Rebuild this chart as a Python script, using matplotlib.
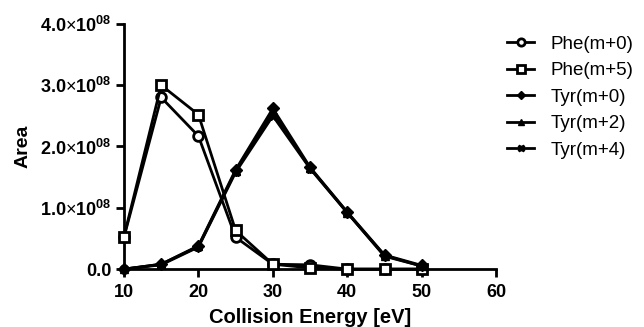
import matplotlib
matplotlib.use("Agg")
import matplotlib.pyplot as plt

plt.rcParams['font.family'] = ['Liberation Sans', 'DejaVu Sans']
plt.rcParams['mathtext.fontset'] = 'custom'
plt.rcParams['mathtext.rm'] = 'Liberation Sans'
plt.rcParams['mathtext.bf'] = 'Liberation Sans:bold'

energy = [10, 15, 20, 25, 30, 35, 40, 45, 50]
phe_m0 = [0.52e8, 2.80e8, 2.17e8, 0.52e8, 0.08e8, 0.07e8, 0.0, 0.0, 0.0]
phe_m5 = [0.53e8, 3.00e8, 2.52e8, 0.63e8, 0.08e8, 0.02e8, 0.0, 0.0, 0.0]
tyr_m0 = [0.0, 0.08e8, 0.38e8, 1.62e8, 2.62e8, 1.66e8, 0.93e8, 0.23e8, 0.06e8]
tyr_m2 = [0.0, 0.08e8, 0.37e8, 1.60e8, 2.55e8, 1.65e8, 0.92e8, 0.22e8, 0.05e8]
tyr_m4 = [0.0, 0.07e8, 0.36e8, 1.58e8, 2.50e8, 1.64e8, 0.92e8, 0.21e8, 0.05e8]

yticks = [0, 1e8, 2e8, 3e8, 4e8]
ytick_labels = ['0.0',
                r'$\mathbf{1.0}{\times}\mathbf{10^{08}}$',
                r'$\mathbf{2.0}{\times}\mathbf{10^{08}}$',
                r'$\mathbf{3.0}{\times}\mathbf{10^{08}}$',
                r'$\mathbf{4.0}{\times}\mathbf{10^{08}}$']
xticks = [10, 20, 30, 40, 50, 60]

fig = plt.figure(figsize=(6.44, 3.27), dpi=100)
ax = fig.add_axes([0.1925, 0.177, 0.578, 0.75])

lw = 2
ax.plot(energy, phe_m0, color='black', lw=lw, marker='o', ms=7, mfc='white', mec='black', mew=2, label='Phe(m+0)', zorder=3)
ax.plot(energy, phe_m5, color='black', lw=lw, marker='s', ms=7, mfc='white', mec='black', mew=2, label='Phe(m+5)', zorder=3)
ax.plot(energy, tyr_m0, color='black', lw=lw, marker='D', ms=6, mfc='black', mec='black', label='Tyr(m+0)', zorder=4)
ax.plot(energy, tyr_m2, color='black', lw=lw, marker='^', ms=6, mfc='black', mec='black', label='Tyr(m+2)', zorder=4)
ax.plot(energy, tyr_m4, color='black', lw=lw, marker='X', ms=6, mfc='black', mec='black', label='Tyr(m+4)', zorder=4)

ax.set_xlim(10, 60)
ax.set_ylim(0, 4e8)
ax.set_xticks(xticks)
ax.set_xticklabels([str(t) for t in xticks], fontsize=13, fontweight='bold')
ax.set_yticks(yticks)
ax.set_yticklabels(ytick_labels, fontsize=13, fontweight='bold')

for s in ['top', 'right']:
    ax.spines[s].set_visible(False)
for s in ['left', 'bottom']:
    ax.spines[s].set_linewidth(2)
ax.tick_params(axis='both', direction='out', length=6, width=2)
ax.tick_params(axis='x', pad=5)
ax.tick_params(axis='y', pad=3)
ax.margins(0)

ax.set_xlabel('Collision Energy [eV]', fontsize=14.5, fontweight='bold', labelpad=5)
ax.set_ylabel('Area', fontsize=14, fontweight='bold', labelpad=6)

for ln in ax.get_lines():
    ln.set_clip_on(False)

leg = ax.legend(loc='upper left', bbox_to_anchor=(0.985, 1.02), frameon=False,
                fontsize=13.5, handlelength=1.4, labelspacing=0.5, handletextpad=0.9,
                markerscale=0.75)

fig.savefig('out.png', dpi=100)
